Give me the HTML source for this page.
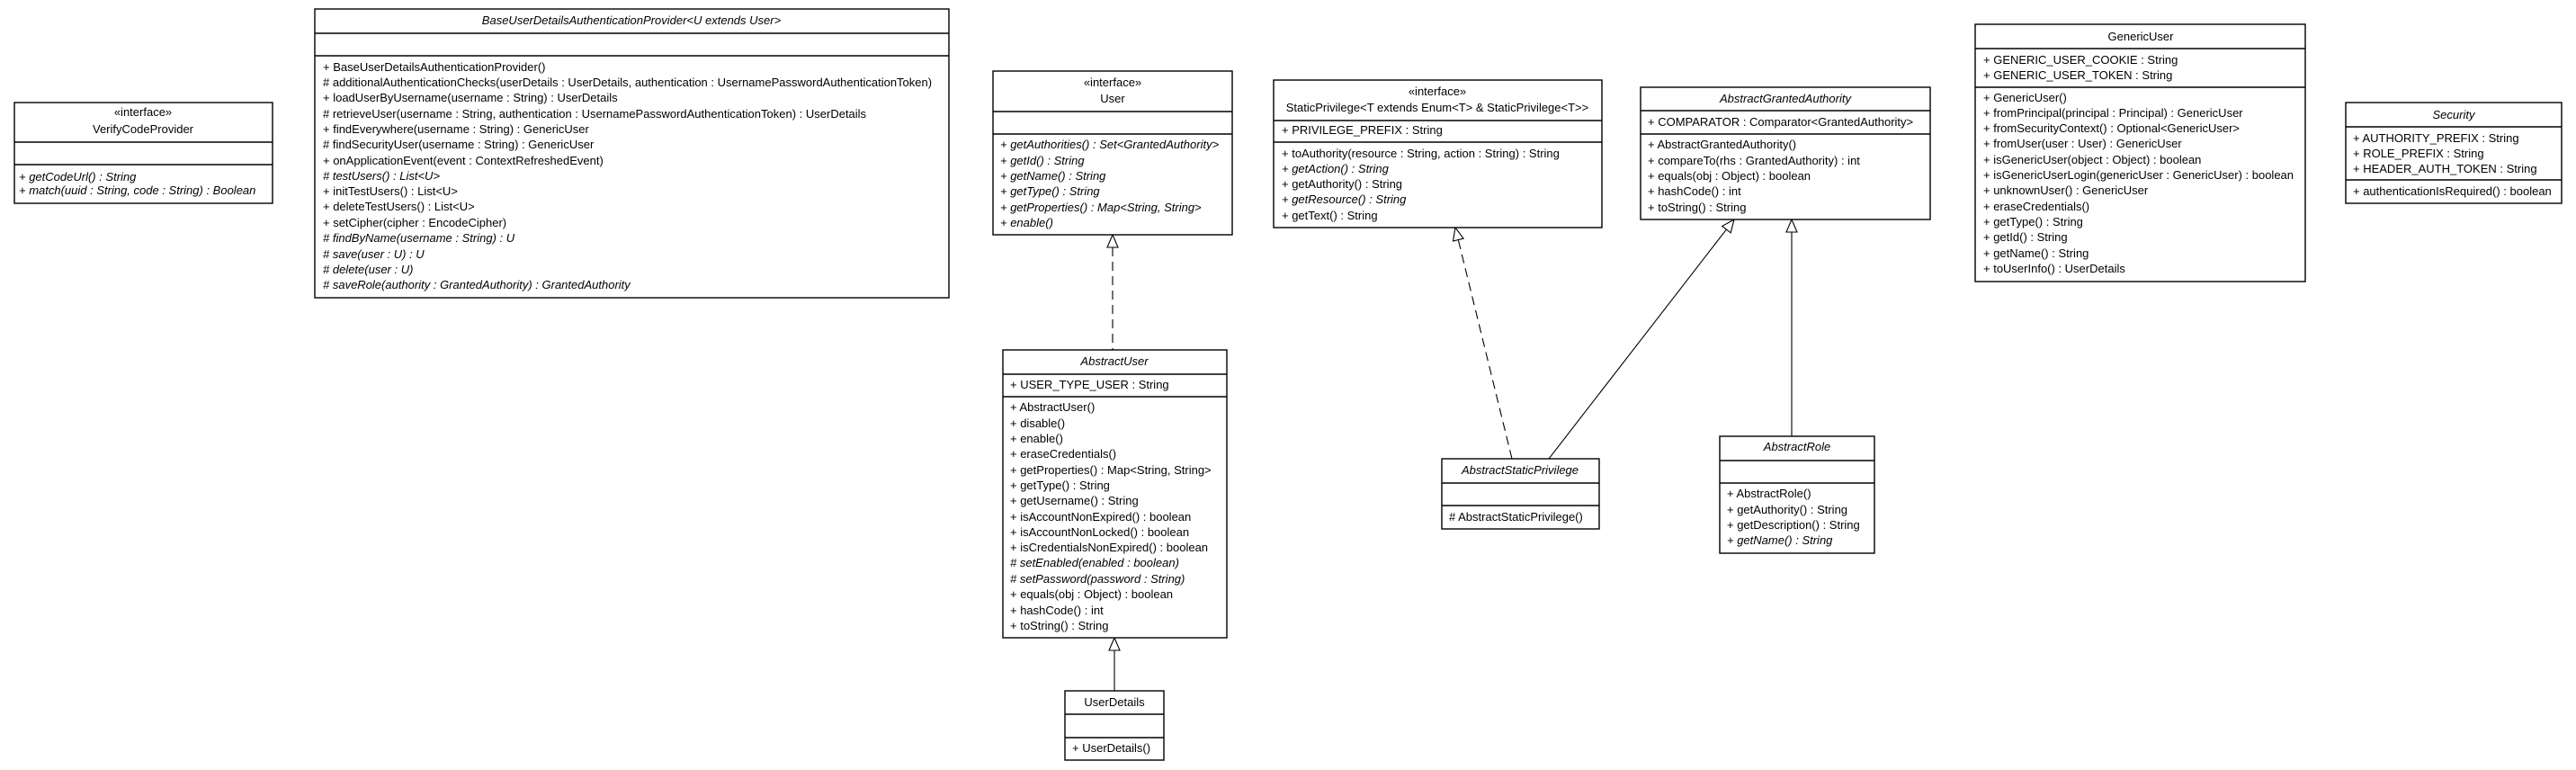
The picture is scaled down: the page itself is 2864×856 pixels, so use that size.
<!DOCTYPE html>
<html><head><meta charset="utf-8"><style>
html,body{margin:0;padding:0;background:#fff;}
svg{display:block;}
text{font-family:"Liberation Sans",Arial,sans-serif;font-size:13px;fill:#000;}
.i{font-style:italic;}
.c{text-anchor:middle;}
rect{fill:#fff;stroke:#000;stroke-width:1.4;}
line.s{stroke:#000;stroke-width:1.4;}
.e{stroke:#000;stroke-width:1.1;fill:none;}
.t{fill:#fff;stroke:#000;stroke-width:1.1;}
</style></head><body>
<svg width="2864" height="856" viewBox="0 0 2864 856" xmlns="http://www.w3.org/2000/svg">

<line class="e" x1="1237" y1="275" x2="1237" y2="389" stroke-dasharray="10,6"/>
<polygon class="t" points="1237,261 1231,275 1243,275"/>
<line class="e" x1="1239" y1="723" x2="1239" y2="768"/>
<polygon class="t" points="1239,709 1233,723 1245,723"/>
<line class="e" x1="1681" y1="510" x2="1621.3" y2="266.6" stroke-dasharray="10,6"/>
<polygon class="t" points="1618,253 1627.1,265.2 1615.5,268"/>
<line class="e" x1="1722" y1="510" x2="1919.4" y2="255.1"/>
<polygon class="t" points="1928,244 1924.2,258.8 1914.7,251.4"/>
<line class="e" x1="1992" y1="258" x2="1992" y2="485"/>
<polygon class="t" points="1992,244 1986,258 1998,258"/>

<rect x="16" y="114" width="287" height="112"/>
<line class="s" x1="16" y1="158" x2="303" y2="158"/>
<line class="s" x1="16" y1="183" x2="303" y2="183"/>
<text class="c" x="159" y="129">«interface»</text>
<text class="c" x="159" y="148">VerifyCodeProvider</text>
<text class="i" x="21" y="201">+ getCodeUrl() : String</text>
<text class="i" x="21" y="216">+ match(uuid : String, code : String) : Boolean</text>

<rect x="350" y="10" width="705" height="321"/>
<line class="s" x1="350" y1="37" x2="1055" y2="37"/>
<line class="s" x1="350" y1="62" x2="1055" y2="62"/>
<text class="c i" x="702" y="27">BaseUserDetailsAuthenticationProvider&lt;U extends User&gt;</text>
<text x="359" y="79">+ BaseUserDetailsAuthenticationProvider()</text>
<text x="359" y="96"># additionalAuthenticationChecks(userDetails : UserDetails, authentication : UsernamePasswordAuthenticationToken)</text>
<text x="359" y="113">+ loadUserByUsername(username : String) : UserDetails</text>
<text x="359" y="131"># retrieveUser(username : String, authentication : UsernamePasswordAuthenticationToken) : UserDetails</text>
<text x="359" y="148">+ findEverywhere(username : String) : GenericUser</text>
<text x="359" y="165"># findSecurityUser(username : String) : GenericUser</text>
<text x="359" y="183">+ onApplicationEvent(event : ContextRefreshedEvent)</text>
<text class="i" x="359" y="200"># testUsers() : List&lt;U&gt;</text>
<text x="359" y="217">+ initTestUsers() : List&lt;U&gt;</text>
<text x="359" y="234">+ deleteTestUsers() : List&lt;U&gt;</text>
<text x="359" y="252">+ setCipher(cipher : EncodeCipher)</text>
<text class="i" x="359" y="269"># findByName(username : String) : U</text>
<text class="i" x="359" y="287"># save(user : U) : U</text>
<text class="i" x="359" y="304"># delete(user : U)</text>
<text class="i" x="359" y="321"># saveRole(authority : GrantedAuthority) : GrantedAuthority</text>

<rect x="1104" y="79" width="266" height="182"/>
<line class="s" x1="1104" y1="124" x2="1370" y2="124"/>
<line class="s" x1="1104" y1="149" x2="1370" y2="149"/>
<text class="c" x="1237" y="96">«interface»</text>
<text class="c" x="1237" y="114">User</text>
<text class="i" x="1112" y="165">+ getAuthorities() : Set&lt;GrantedAuthority&gt;</text>
<text class="i" x="1112" y="183">+ getId() : String</text>
<text class="i" x="1112" y="200">+ getName() : String</text>
<text class="i" x="1112" y="217">+ getType() : String</text>
<text class="i" x="1112" y="235">+ getProperties() : Map&lt;String, String&gt;</text>
<text class="i" x="1112" y="252">+ enable()</text>

<rect x="1416" y="89" width="365" height="164"/>
<line class="s" x1="1416" y1="134" x2="1781" y2="134"/>
<line class="s" x1="1416" y1="158" x2="1781" y2="158"/>
<text class="c" x="1598" y="106">«interface»</text>
<text class="c" x="1598" y="124">StaticPrivilege&lt;T extends Enum&lt;T&gt; &amp; StaticPrivilege&lt;T&gt;&gt;</text>
<text x="1425" y="149">+ PRIVILEGE_PREFIX : String</text>
<text x="1425" y="175">+ toAuthority(resource : String, action : String) : String</text>
<text class="i" x="1425" y="192">+ getAction() : String</text>
<text x="1425" y="209">+ getAuthority() : String</text>
<text class="i" x="1425" y="226">+ getResource() : String</text>
<text x="1425" y="244">+ getText() : String</text>

<rect x="1824" y="97" width="322" height="147"/>
<line class="s" x1="1824" y1="123" x2="2146" y2="123"/>
<line class="s" x1="1824" y1="149" x2="2146" y2="149"/>
<text class="c i" x="1985" y="114">AbstractGrantedAuthority</text>
<text x="1832" y="140">+ COMPARATOR : Comparator&lt;GrantedAuthority&gt;</text>
<text x="1832" y="165">+ AbstractGrantedAuthority()</text>
<text x="1832" y="183">+ compareTo(rhs : GrantedAuthority) : int</text>
<text x="1832" y="200">+ equals(obj : Object) : boolean</text>
<text x="1832" y="217">+ hashCode() : int</text>
<text x="1832" y="235">+ toString() : String</text>

<rect x="2196" y="27" width="367" height="286"/>
<line class="s" x1="2196" y1="54" x2="2563" y2="54"/>
<line class="s" x1="2196" y1="97" x2="2563" y2="97"/>
<text class="c" x="2380" y="45">GenericUser</text>
<text x="2205" y="71">+ GENERIC_USER_COOKIE : String</text>
<text x="2205" y="88">+ GENERIC_USER_TOKEN : String</text>
<text x="2205" y="113">+ GenericUser()</text>
<text x="2205" y="130">+ fromPrincipal(principal : Principal) : GenericUser</text>
<text x="2205" y="147">+ fromSecurityContext() : Optional&lt;GenericUser&gt;</text>
<text x="2205" y="164">+ fromUser(user : User) : GenericUser</text>
<text x="2205" y="182">+ isGenericUser(object : Object) : boolean</text>
<text x="2205" y="199">+ isGenericUserLogin(genericUser : GenericUser) : boolean</text>
<text x="2205" y="216">+ unknownUser() : GenericUser</text>
<text x="2205" y="234">+ eraseCredentials()</text>
<text x="2205" y="251">+ getType() : String</text>
<text x="2205" y="268">+ getId() : String</text>
<text x="2205" y="286">+ getName() : String</text>
<text x="2205" y="303">+ toUserInfo() : UserDetails</text>

<rect x="2608" y="114" width="240" height="112"/>
<line class="s" x1="2608" y1="141" x2="2848" y2="141"/>
<line class="s" x1="2608" y1="200" x2="2848" y2="200"/>
<text class="c i" x="2728" y="132">Security</text>
<text x="2616" y="158">+ AUTHORITY_PREFIX : String</text>
<text x="2616" y="175">+ ROLE_PREFIX : String</text>
<text x="2616" y="192">+ HEADER_AUTH_TOKEN : String</text>
<text x="2616" y="217">+ authenticationIsRequired() : boolean</text>

<rect x="1115" y="389" width="249" height="320"/>
<line class="s" x1="1115" y1="416" x2="1364" y2="416"/>
<line class="s" x1="1115" y1="441" x2="1364" y2="441"/>
<text class="c i" x="1239" y="406">AbstractUser</text>
<text x="1123" y="432">+ USER_TYPE_USER : String</text>
<text x="1123" y="457">+ AbstractUser()</text>
<text x="1123" y="475">+ disable()</text>
<text x="1123" y="492">+ enable()</text>
<text x="1123" y="509">+ eraseCredentials()</text>
<text x="1123" y="527">+ getProperties() : Map&lt;String, String&gt;</text>
<text x="1123" y="544">+ getType() : String</text>
<text x="1123" y="561">+ getUsername() : String</text>
<text x="1123" y="579">+ isAccountNonExpired() : boolean</text>
<text x="1123" y="596">+ isAccountNonLocked() : boolean</text>
<text x="1123" y="613">+ isCredentialsNonExpired() : boolean</text>
<text class="i" x="1123" y="630"># setEnabled(enabled : boolean)</text>
<text class="i" x="1123" y="648"># setPassword(password : String)</text>
<text x="1123" y="665">+ equals(obj : Object) : boolean</text>
<text x="1123" y="683">+ hashCode() : int</text>
<text x="1123" y="700">+ toString() : String</text>

<rect x="1184" y="768" width="110" height="77"/>
<line class="s" x1="1184" y1="794" x2="1294" y2="794"/>
<line class="s" x1="1184" y1="820" x2="1294" y2="820"/>
<text class="c" x="1239" y="785">UserDetails</text>
<text x="1192" y="836">+ UserDetails()</text>

<rect x="1603" y="510" width="175" height="78"/>
<line class="s" x1="1603" y1="537" x2="1778" y2="537"/>
<line class="s" x1="1603" y1="562" x2="1778" y2="562"/>
<text class="c i" x="1690" y="527">AbstractStaticPrivilege</text>
<text x="1611" y="579"># AbstractStaticPrivilege()</text>

<rect x="1912" y="485" width="172" height="130"/>
<line class="s" x1="1912" y1="512" x2="2084" y2="512"/>
<line class="s" x1="1912" y1="537" x2="2084" y2="537"/>
<text class="c i" x="1998" y="501">AbstractRole</text>
<text x="1920" y="553">+ AbstractRole()</text>
<text x="1920" y="571">+ getAuthority() : String</text>
<text x="1920" y="588">+ getDescription() : String</text>
<text class="i" x="1920" y="605">+ getName() : String</text>
</svg>
</body></html>
